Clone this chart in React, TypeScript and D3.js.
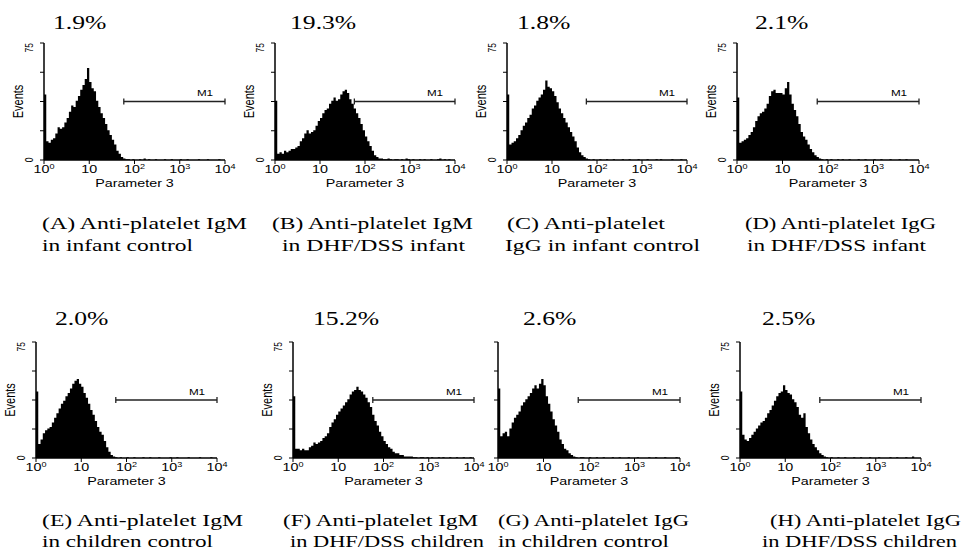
import { useEffect, useRef } from "react";
import * as d3 from "d3";

// percentage of events inside the M1 gate, one per panel
const percentLabels = ["1.9%", "19.3%", "1.8%", "2.1%", "2.0%", "15.2%", "2.6%", "2.5%"];

const captionLine1 = [
    "(A) Anti-platelet IgM", "(B) Anti-platelet IgM", "(C) Anti-platelet", "(D) Anti-platelet IgG",
    "(E) Anti-platelet IgM", "(F) Anti-platelet IgM", "(G) Anti-platelet IgG", "(H) Anti-platelet IgG",
];
const captionLine2 = [
    "in infant control", "in DHF/DSS infant", "IgG in infant control", "in DHF/DSS infant",
    "in children control", "in DHF/DSS children", "in children control", "in DHF/DSS children",
];

// event counts per channel bin, 20 bins per decade starting at 10^0
const histA = [42, 12, 11, 13, 14, 17, 21, 20, 21, 24, 27, 31, 35, 34, 38, 41, 45, 48, 52, 59, 50, 46, 44, 38, 34, 30, 27, 23, 19, 16, 13, 10, 6, 4, 2, 1,
    0.5, 0.5, 0, 0.5, 0, 0, 0.5, 0, 1, 0, 0.5, 0, 0, 0.5, 0, 0, 0, 0.5, 0, 0, 0.5, 0, 0, 0, 0.5, 0, 0, 0.5, 0, 0, 0, 0, 0.5, 0, 0, 0, 0.5, 0, 0, 0, 0, 0.5, 0, 0];
const histB = [38, 4, 5, 4, 6, 5, 6, 7, 7, 8, 9, 12, 14, 17, 19, 17, 18, 19, 22, 25, 27, 30, 32, 33, 36, 38, 40, 38, 39, 42, 44, 45, 43, 39, 36, 33, 30, 27, 23, 19, 15, 12, 9, 6, 3, 2, 1,
    1, 0.5, 0.5, 1, 0.5, 0, 0.5, 0.5, 0, 0.5, 0, 1, 0.5, 0, 0.5, 0, 0, 0.5, 0, 0.5, 0, 0, 0.5, 0, 0, 0.5, 1, 0, 0.5, 0, 0.5, 0, 0];
const histC = [42, 10, 11, 12, 14, 16, 19, 22, 24, 27, 29, 33, 35, 38, 40, 42, 45, 51, 47, 46, 44, 41, 37, 33, 30, 27, 24, 21, 18, 15, 12, 8, 5, 3, 2, 1,
    0.5, 0, 0.5, 0, 0, 0.5, 0, 0, 0.5, 0, 0, 0.5, 0, 0, 0, 0.5, 0, 0, 0.5, 0, 0, 0, 0.5, 0, 0, 0, 0.5, 0, 0, 0, 0.5, 0, 0.5, 0, 0, 0, 0, 0.5, 0, 0, 0, 0.5, 0, 0];
const histD = [40, 11, 12, 13, 14, 16, 18, 21, 25, 28, 30, 31, 33, 36, 41, 44, 45, 43, 43, 43, 42, 46, 50, 42, 36, 32, 28, 23, 18, 15, 13, 10, 7, 5, 3, 2, 1,
    0.5, 0, 0.5, 0, 0.5, 0, 0, 0.5, 0, 0.5, 0, 0, 0.5, 0, 0, 0, 0.5, 0, 0, 0.5, 0, 0, 0, 0.5, 0, 0, 0.5, 0, 0, 0, 0.5, 0, 0, 0, 0.5, 0, 0, 0.5, 0, 0, 0, 0, 0];
const histE = [43, 9, 12, 16, 18, 19, 20, 23, 26, 29, 32, 35, 37, 40, 42, 45, 48, 50, 51, 48, 46, 42, 39, 35, 31, 28, 24, 20, 17, 15, 11, 7, 4, 2, 1,
    0.5, 0, 0.5, 0, 0, 0.5, 0, 0, 0.5, 0, 0, 0, 0.5, 0, 0, 0.5, 0, 0, 0, 0.5, 0, 0, 0, 0, 0.5, 0, 0, 0.5, 0, 0, 0, 0, 0.5, 0, 0, 0, 0, 0.5, 0, 0, 0, 0, 0.5, 0, 0];
const histF = [40, 6, 6, 5, 6, 5, 5, 7, 8, 10, 9, 10, 11, 13, 14, 16, 20, 23, 25, 28, 30, 32, 34, 36, 38, 41, 43, 44, 46, 44, 43, 41, 39, 36, 33, 28, 24, 21, 17, 14, 11, 9, 7, 6, 4, 3, 3, 2, 2, 1, 1, 1, 1,
    0.5, 0.5, 0, 0.5, 0.5, 0, 0.5, 0, 0.5, 0, 0, 0.5, 0, 0.5, 0, 0, 0.5, 0, 0, 0.5, 0, 0, 0.5, 0, 0, 0.5, 0];
const histG = [45, 14, 16, 17, 14, 19, 23, 26, 28, 30, 34, 36, 38, 40, 42, 45, 47, 45, 48, 51, 47, 40, 35, 30, 25, 21, 17, 12, 9, 6, 5, 3, 2, 1,
    0.5, 0, 0.5, 0.5, 0, 0, 0.5, 0, 0, 0.5, 0, 0, 0.5, 0, 0, 0, 0.5, 0, 0, 0.5, 0, 0, 0, 0.5, 0, 0, 0, 0.5, 0, 0, 0, 0, 0.5, 0, 0, 0.5, 0, 0, 0, 0.5, 0, 0, 0, 0, 0.5, 0];
const histH = [43, 15, 12, 11, 13, 15, 17, 19, 21, 23, 24, 26, 29, 31, 34, 37, 40, 42, 43, 47, 44, 42, 41, 38, 36, 33, 28, 26, 29, 20, 16, 12, 9, 7, 5, 3, 2, 1,
    0.5, 0, 0.5, 0, 0, 0.5, 0, 0, 0.5, 0, 0, 0, 0.5, 0, 0, 0.5, 0, 0, 0, 0.5, 0, 0, 0, 0.5, 0, 0, 0, 0, 0.5, 0, 0, 0.5, 0, 0, 0, 0.5, 0, 0, 1, 0, 0, 0];

const histograms = [histA, histB, histC, histD, histE, histF, histG, histH];

const binsPerDecade = 20;
const yMax = 75;
const yTicks = [0, 18.75, 37.5, 56.25, 75];
const xTicks = [1, 10, 100, 1000, 10000];
const xTickExp = ["0", "", "2", "3", "4"];
const m1Gate = [58, 10000];
const m1Level = 37.5;

// where each panel sits on the page (caption widths)
const frames = [
    {left: 44, right: 225, top: 43, bottom: 160, pctX: 53, cap1X: 42, cap1W: 205, cap2X: 42, cap2W: 151, yLabels: true},
    {left: 275, right: 455, top: 43, bottom: 160, pctX: 290, cap1X: 272, cap1W: 201, cap2X: 282, cap2W: 183, yLabels: true},
    {left: 507, right: 687, top: 43, bottom: 160, pctX: 517, cap1X: 507, cap1W: 158, cap2X: 505, cap2W: 195, yLabels: true},
    {left: 737, right: 919, top: 43, bottom: 160, pctX: 755, cap1X: 745, cap1W: 191, cap2X: 747, cap2W: 179, yLabels: true},
    {left: 36, right: 217, top: 342, bottom: 458, pctX: 55, cap1X: 42, cap1W: 201, cap2X: 42, cap2W: 171, yLabels: true},
    {left: 293, right: 474, top: 342, bottom: 458, pctX: 313, cap1X: 283, cap1W: 195, cap2X: 290, cap2W: 194, yLabels: true},
    {left: 498, right: 680, top: 342, bottom: 458, pctX: 523, cap1X: 498, cap1W: 191, cap2X: 498, cap2W: 171, yLabels: false},
    {left: 740, right: 921, top: 342, bottom: 458, pctX: 762, cap1X: 770, cap1W: 191, cap2X: 762, cap2W: 195, yLabels: true},
];

const SERIF = "'Liberation Serif', 'Times New Roman', serif";
const SANS = "'Liberation Sans', Arial, sans-serif";
const SX = 1.3; // the whole figure is a bit stretched sideways

function App() {
    const ref = useRef(null);

    useEffect(() => {
        const svg = d3.select(ref.current)
            .append("svg")
            .attr("width", 963)
            .attr("height", 550)
            .style("position", "absolute")
            .style("left", 0)
            .style("top", 0)
            .style("background", "#fff");

        const label = (g, x, y, str, size, family, anchor, sx, rotate = false) =>
            g.append("text")
                .attr("transform", `translate(${x},${y}) scale(${sx},1)` + (rotate ? " rotate(-90)" : ""))
                .attr("font-size", size)
                .attr("font-family", family)
                .attr("text-anchor", anchor)
                .attr("fill", "#000")
                .text(str);

        const caption = (g, x, y, str, w) =>
            g.append("text")
                .attr("x", x)
                .attr("y", y)
                .attr("font-size", 17)
                .attr("font-family", SERIF)
                .attr("textLength", w)
                .attr("lengthAdjust", "spacingAndGlyphs")
                .attr("fill", "#000")
                .text(str);

        frames.forEach((f, p) => {
            const g = svg.append("g");
            const x = d3.scaleLog().domain([1, 1e4]).range([f.left, f.right]);
            const y = d3.scaleLinear().domain([0, yMax]).range([f.bottom, f.top]);

            // histogram as steps
            const hist = histograms[p];
            const pts = hist.map((v, i) => [Math.pow(10, i / binsPerDecade), v]);
            pts.push([Math.pow(10, hist.length / binsPerDecade), hist[hist.length - 1]]);
            const area = d3.area()
                .x(d => x(Math.min(d[0], 1e4)))
                .y0(f.bottom)
                .y1(d => y(d[1]))
                .curve(d3.curveStepAfter);
            g.append("path").attr("d", area(pts)).attr("fill", "#000");

            // y axis
            g.append("line").attr("x1", f.left).attr("x2", f.left)
                .attr("y1", y(0)).attr("y2", y(yMax)).attr("stroke", "#000").attr("stroke-width", 1.5);
            yTicks.forEach(t => {
                g.append("line").attr("x1", f.left - 4).attr("x2", f.left)
                    .attr("y1", y(t)).attr("y2", y(t)).attr("stroke", "#000").attr("stroke-width", 1);
            });

            // x axis
            g.append("line").attr("x1", x(1)).attr("x2", x(1e4))
                .attr("y1", f.bottom).attr("y2", f.bottom).attr("stroke", "#000").attr("stroke-width", 1.5);
            xTicks.forEach((t, i) => {
                g.append("line").attr("x1", x(t)).attr("x2", x(t))
                    .attr("y1", f.bottom).attr("y2", f.bottom + 4).attr("stroke", "#000").attr("stroke-width", 1);
                const tx = label(g, x(t), f.bottom + 12.5, "10", 11, SANS, "middle", SX);
                if (xTickExp[i]) {
                    tx.append("tspan").attr("font-size", 7).attr("dy", -4).text(xTickExp[i]);
                }
            });
            label(g, (x(1) + x(1e4)) / 2, f.bottom + 27, "Parameter 3", 11, SANS, "middle", SX);

            if (f.yLabels) {
                label(g, f.left - 11, y(yMax), "75", 8.5, SANS, "end", SX, true);
                label(g, f.left - 11, y(0), "0", 8.5, SANS, "middle", SX, true);
                label(g, f.left - 21, (y(0) + y(yMax)) / 2, "Events", 11, SANS, "middle", SX, true);
            }

            // M1 gate marker
            const gy = y(m1Level);
            g.append("line").attr("x1", x(m1Gate[0])).attr("x2", x(m1Gate[1]))
                .attr("y1", gy).attr("y2", gy).attr("stroke", "#222").attr("stroke-width", 1.3);
            m1Gate.forEach(v => {
                g.append("line").attr("x1", x(v)).attr("x2", x(v))
                    .attr("y1", gy - 3).attr("y2", gy + 3).attr("stroke", "#222").attr("stroke-width", 1.3);
            });
            label(g, x(m1Gate[1]) - 20, gy - 5.5, "M1", 9, SANS, "middle", SX);

            // percentage and caption
            const row1 = p < 4;
            label(g, f.pctX, row1 ? 29 : 325, percentLabels[p], 19, SERIF, "start", 1.35);
            caption(g, f.cap1X, row1 ? 229 : 526, captionLine1[p], f.cap1W);
            caption(g, f.cap2X, row1 ? 251 : 547, captionLine2[p], f.cap2W);
        });

        return () => {
            ref.current && ref.current.querySelector("svg")?.remove();
        };
    }, []);

    return <div ref={ref}></div>;
}

export default App;
